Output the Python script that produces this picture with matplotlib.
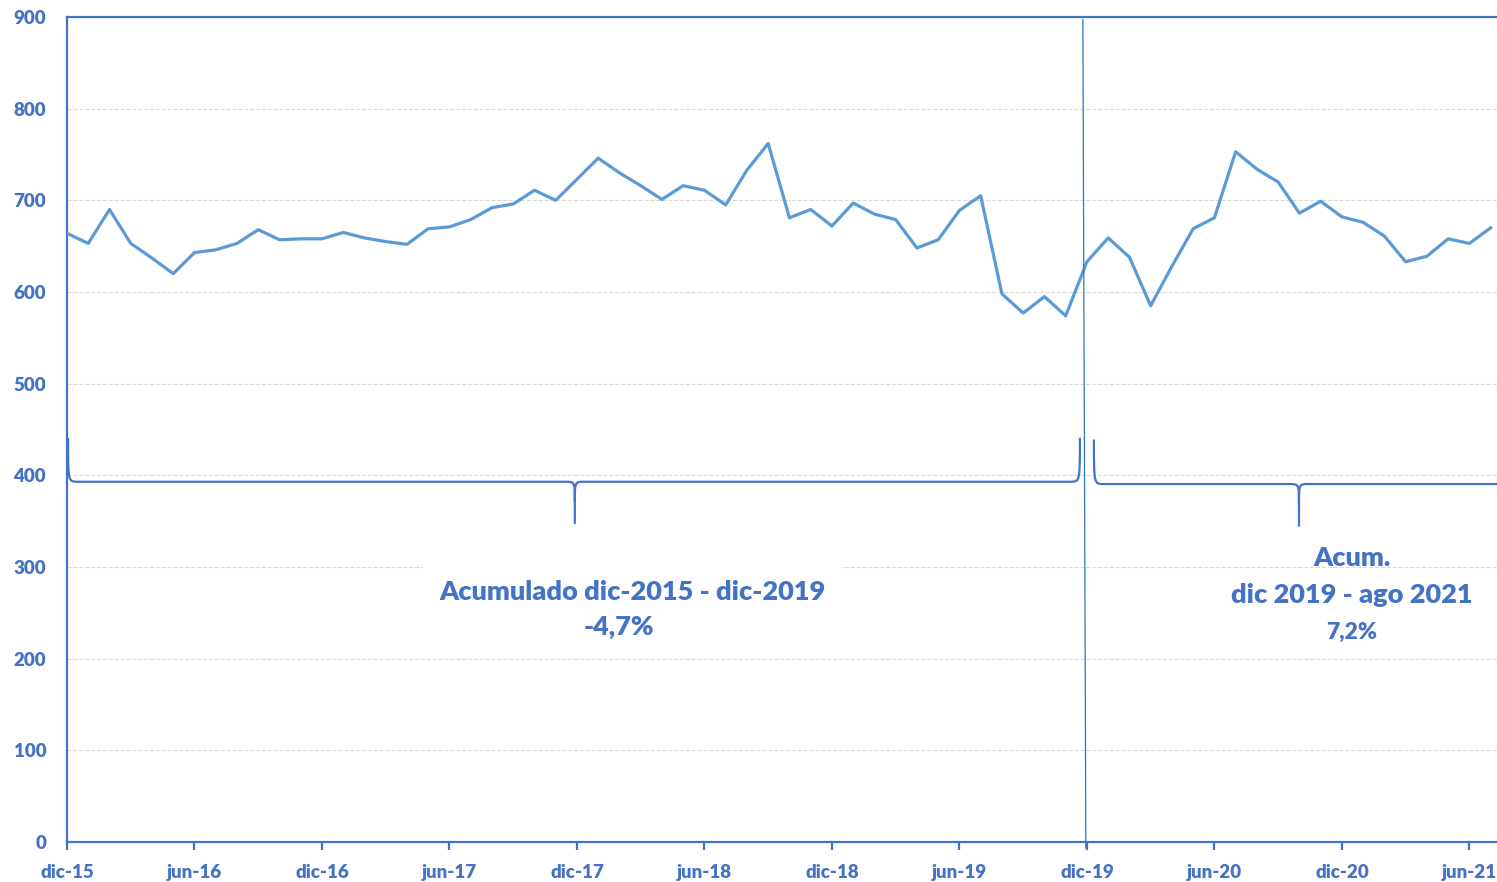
import numpy as np
import matplotlib.pyplot as plt
from matplotlib.path import Path
from matplotlib.patches import PathPatch

# valores mensuales desde dic-15 hasta jul-21
valores = [664, 653, 690, 653, 637, 620, 643, 646, 653, 668, 657, 658,
           658, 665, 659, 655, 652, 669, 671, 679, 692, 696, 711, 700,
           723, 746, 730, 716, 701, 716, 711, 695, 733, 762, 681, 690,
           672, 697, 685, 679, 648, 657, 689, 705, 598, 577, 595, 574,
           633, 659, 638, 585, 628, 669, 681, 753, 734, 720, 686, 699,
           682, 676, 661, 633, 639, 658, 653, 670]

etiquetas_x = ['dic-15', 'jun-16', 'dic-16', 'jun-17', 'dic-17', 'jun-18',
               'dic-18', 'jun-19', 'dic-19', 'jun-20', 'dic-20', 'jun-21']
ticks_y = [0, 100, 200, 300, 400, 500, 600, 700, 800, 900]

azul_linea = '#5B9BD5'
azul_texto = '#4472C4'
fuente = 'Lato'

meses = np.arange(len(valores))
idx_dic19 = 48

fig = plt.figure(figsize=(14.97, 8.82), dpi=100)
ax = fig.add_axes([67/1497, 40/882, 1 - 67/1497, 825/882])

ax.grid(axis='y', color='#D9D9D9', linestyle='--', linewidth=0.8, zorder=0)
ax.set_axisbelow(True)
ax.plot(meses, valores, color=azul_linea, linewidth=2.3, zorder=3)

ax.set_xlim(0, 67.3)
ax.set_ylim(0, 900)
ax.set_xticks(np.arange(0, 67, 6))
ax.set_xticklabels(etiquetas_x)
ax.set_yticks(ticks_y)

for lado in ['left', 'bottom', 'top']:
    ax.spines[lado].set_color(azul_texto)
    ax.spines[lado].set_linewidth(1.6)
ax.spines['right'].set_visible(False)

ax.tick_params(axis='x', colors=azul_texto, length=6, width=1.6, pad=10)
ax.tick_params(axis='y', colors=azul_texto, length=0, pad=15)
for t in ax.get_xticklabels() + ax.get_yticklabels():
    t.set_fontfamily(fuente)
    t.set_fontweight('heavy')
    t.set_fontsize(13.5)
    t.set_color(azul_texto)

# linea vertical en dic-19
ax.plot([idx_dic19 - 0.19, idx_dic19 - 0.05], [897, -6.5], color='#2E75B6',
        linewidth=0.9, clip_on=False, zorder=4)


def llave(x0, x1, xm, y_linea, y_punta, y_pico, dx=0.45, dy=22):
    verts = [(x0, y_punta), (x0, y_linea), (x0, y_linea), (x0 + dx, y_linea),
             (xm - dx, y_linea),
             (xm, y_linea), (xm, y_linea), (xm, y_linea - dy),
             (xm, y_pico),
             (xm, y_linea - dy),
             (xm, y_linea), (xm, y_linea), (xm + dx, y_linea),
             (x1 - dx, y_linea),
             (x1, y_linea), (x1, y_linea), (x1, y_punta)]
    codes = [Path.MOVETO, Path.CURVE4, Path.CURVE4, Path.CURVE4,
             Path.LINETO,
             Path.CURVE4, Path.CURVE4, Path.CURVE4,
             Path.LINETO,
             Path.MOVETO,
             Path.CURVE4, Path.CURVE4, Path.CURVE4,
             Path.LINETO,
             Path.CURVE4, Path.CURVE4, Path.CURVE4]
    p = PathPatch(Path(verts, codes), fill=False, edgecolor=azul_texto,
                  linewidth=1.6, zorder=4)
    ax.add_patch(p)


llave(0.05, 47.67, 23.9, 393, 441, 347)
llave(48.33, 67.63, 57.98, 390.5, 439, 344)

ax.text(26.6, 272.7, 'Acumulado dic-2015 - dic-2019', ha='center', va='center',
        fontsize=19.5, fontweight='heavy', color=azul_texto, family=fuente, zorder=5,
        bbox=dict(boxstyle='square,pad=0.6', facecolor='white', edgecolor='none'))
ax.text(25.98, 234.5, '-4,7%', ha='center', va='center', fontsize=19.5,
        fontweight='heavy', color=azul_texto, family=fuente, zorder=6)

ax.text(60.47, 309.8, 'Acum.', ha='center', va='center', fontsize=19.5,
        fontweight='heavy', color=azul_texto, family=fuente, zorder=5)
ax.text(60.47, 269.5, 'dic 2019 - ago 2021', ha='center', va='center', fontsize=19.5,
        fontweight='heavy', color=azul_texto, family=fuente, zorder=5)
ax.text(60.47, 229, '7,2%', ha='center', va='center', fontsize=16.5,
        fontweight='heavy', color=azul_texto, family=fuente, zorder=5)

fig.savefig('out.png', dpi=100)
